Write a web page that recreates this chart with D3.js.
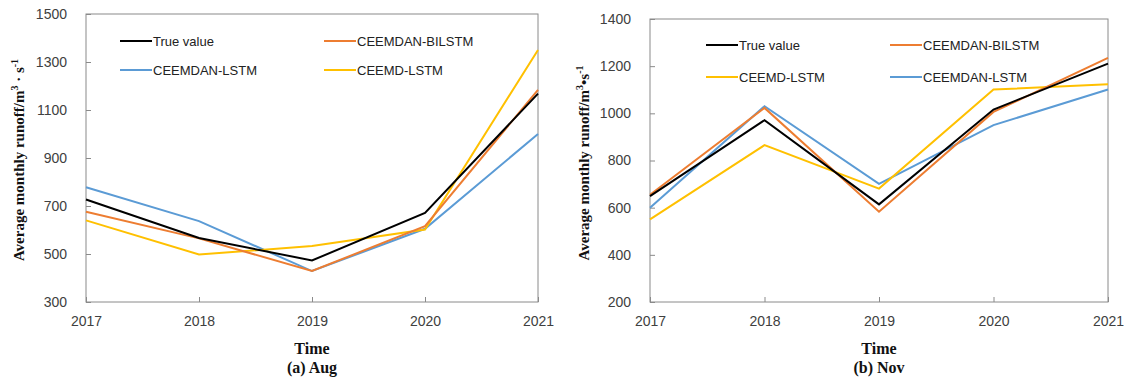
<!DOCTYPE html>
<html>
<head>
<meta charset="UTF-8">
<title>Monthly runoff</title>
<script src="https://d3js.org/d3.v7.min.js"></script>
<style>
  body { margin: 0; background: #fff; }
  .tick text { font-family: "Liberation Sans", Arial, sans-serif; font-size: 14px; fill: #404040; }
  .title { font-family: "Liberation Serif", "Times New Roman", serif; font-weight: bold; font-size: 16px; fill: #111; }
  .ylab { font-family: "Liberation Serif", "Times New Roman", serif; font-weight: bold; font-size: 15px; fill: #111; }
  .legend { font-family: "Liberation Sans", Arial, sans-serif; font-size: 13px; fill: #222; }
</style>
</head>
<body>
<div id="chart"></div>
<script>
// years on the x axis
var years = [2017, 2018, 2019, 2020, 2021];

// (a) Aug
var augTrue     = [727, 567, 473, 671, 1168];
var augBilstm   = [676, 565, 429, 616, 1184];
var augLstm     = [778, 637, 429, 605, 1000];
var augCeemd    = [640, 498, 533, 602, 1350];
var augTicks    = [300, 500, 700, 900, 1100, 1300, 1500];

// (b) Nov
var novTrue     = [649, 971, 614, 1016, 1211];
var novBilstm   = [655, 1023, 583, 1006, 1235];
var novCeemd    = [550, 865, 681, 1101, 1123];
var novLstm     = [600, 1030, 701, 950, 1101];
var novTicks    = [200, 400, 600, 800, 1000, 1200, 1400];

var colours = {
  "True value": "#000000",
  "CEEMDAN-BILSTM": "#ED7D31",
  "CEEMDAN-LSTM": "#5B9BD5",
  "CEEMD-LSTM": "#FFC000"
};

var svg = d3.select("#chart").append("svg")
  .attr("width", 1125)
  .attr("height", 377);

function drawPanel(opt) {
  var x = d3.scaleLinear().domain([years[0], years[years.length - 1]]).range([opt.left, opt.right]);
  var y = d3.scaleLinear().domain([opt.ticks[0], opt.ticks[opt.ticks.length - 1]]).range([opt.bottom, opt.top]);

  var g = svg.append("g");

  // frame
  g.append("rect")
    .attr("x", opt.left).attr("y", opt.top)
    .attr("width", opt.right - opt.left).attr("height", opt.bottom - opt.top)
    .attr("fill", "none").attr("stroke", "#8a8a8a").attr("stroke-width", 1);

  // y axis, ticks pointing inward
  var yAxis = g.append("g")
    .attr("transform", "translate(" + opt.left + ",0)")
    .call(d3.axisLeft(y).tickValues(opt.ticks).tickFormat(d3.format("d"))
      .tickSizeInner(-5).tickSizeOuter(0).tickPadding(19));
  yAxis.select(".domain").remove();
  yAxis.selectAll("line").attr("stroke", "#8a8a8a");

  // x axis, ticks pointing inward
  var xAxis = g.append("g")
    .attr("transform", "translate(0," + opt.bottom + ")")
    .call(d3.axisBottom(x).tickValues(years).tickFormat(d3.format("d"))
      .tickSizeInner(-5).tickSizeOuter(0).tickPadding(14));
  xAxis.select(".domain").remove();
  xAxis.selectAll("line").attr("stroke", "#8a8a8a");

  // lines
  var line = d3.line()
    .x(function(d, i) { return x(years[i]); })
    .y(function(d) { return y(d); });

  opt.series.forEach(function(s) {
    g.append("path")
      .datum(s.values)
      .attr("fill", "none")
      .attr("stroke", colours[s.name])
      .attr("stroke-width", 2)
      .attr("d", line);
  });

  // legend
  opt.legend.forEach(function(item) {
    g.append("line")
      .attr("x1", item.x).attr("x2", item.x + 32)
      .attr("y1", item.y).attr("y2", item.y)
      .attr("stroke", colours[item.name]).attr("stroke-width", 2);
    g.append("text")
      .attr("class", "legend")
      .attr("x", item.x + 33).attr("y", item.y)
      .attr("dy", "0.35em")
      .text(item.name);
  });

  // axis titles
  var cx = (opt.left + opt.right) / 2;
  g.append("text").attr("class", "title")
    .attr("x", cx).attr("y", 354)
    .attr("text-anchor", "middle").text("Time");
  g.append("text").attr("class", "title")
    .attr("x", cx).attr("y", 373)
    .attr("text-anchor", "middle").text(opt.caption);

  var yt = g.append("text").attr("class", "ylab")
    .attr("transform", "translate(" + opt.labelX + "," + opt.labelY + ") rotate(-90)")
    .attr("text-anchor", "middle");
  yt.append("tspan").text("Average monthly runoff/m");
  yt.append("tspan").attr("dy", -6).attr("font-size", "10px").text("3");
  yt.append("tspan").attr("dy", 6).text(opt.dot + "s");
  yt.append("tspan").attr("dy", -6).attr("font-size", "10px").text("-1");
}

drawPanel({
  left: 86, right: 538, top: 14, bottom: 302,
  ticks: augTicks,
  caption: "(a) Aug",
  labelX: 24, labelY: 160,
  dot: " \u00B7 ",
  series: [
    { name: "CEEMDAN-LSTM", values: augLstm },
    { name: "CEEMD-LSTM", values: augCeemd },
    { name: "CEEMDAN-BILSTM", values: augBilstm },
    { name: "True value", values: augTrue }
  ],
  legend: [
    { name: "True value", x: 120, y: 41 },
    { name: "CEEMDAN-BILSTM", x: 324, y: 41 },
    { name: "CEEMDAN-LSTM", x: 120, y: 70 },
    { name: "CEEMD-LSTM", x: 324, y: 70 }
  ]
});

drawPanel({
  left: 650, right: 1108, top: 19, bottom: 302,
  ticks: novTicks,
  caption: "(b) Nov",
  labelX: 589, labelY: 163,
  dot: "\u2022",
  series: [
    { name: "CEEMDAN-LSTM", values: novLstm },
    { name: "CEEMD-LSTM", values: novCeemd },
    { name: "CEEMDAN-BILSTM", values: novBilstm },
    { name: "True value", values: novTrue }
  ],
  legend: [
    { name: "True value", x: 706, y: 45 },
    { name: "CEEMDAN-BILSTM", x: 890, y: 45 },
    { name: "CEEMD-LSTM", x: 706, y: 77 },
    { name: "CEEMDAN-LSTM", x: 890, y: 77 }
  ]
});
</script>
</body>
</html>
